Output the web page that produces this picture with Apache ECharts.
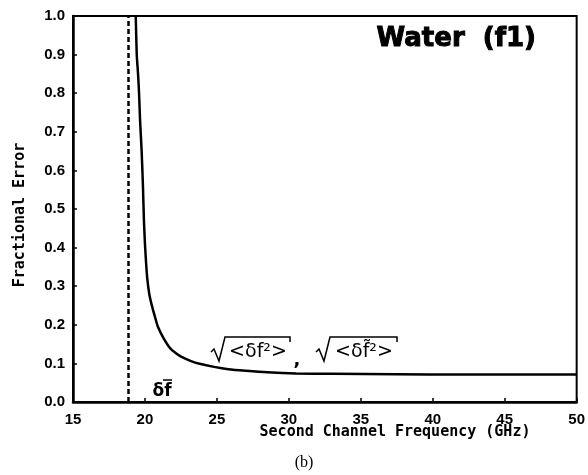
<!DOCTYPE html>
<html>
<head>
<meta charset="utf-8">
<script src="https://cdn.jsdelivr.net/npm/echarts@6/dist/echarts.min.js"></script>
<style>
    html, body { margin: 0; padding: 0; background: #fff; }
    #main { width: 588px; height: 475px; }
</style>
</head>
<body>
<div id="main"></div>
<script>

// curve (second channel frequency, fractional error)
var freqs = [19.36, 19.43, 19.52, 19.59, 19.66, 19.77, 19.86, 19.93, 20.0, 20.08, 20.16, 20.3, 20.5, 20.7, 20.9, 21.3, 21.76, 22.2, 22.55, 23.2, 23.8, 24.8, 25.8, 27.0, 28.5, 30.5, 33.0, 37.4, 42.0, 46.0, 50.0];
var errors = [1.0, 0.9, 0.85, 0.8, 0.73, 0.65, 0.56, 0.47, 0.41, 0.36, 0.32, 0.28, 0.247, 0.22, 0.195, 0.165, 0.139, 0.125, 0.117, 0.106, 0.099, 0.091, 0.085, 0.081, 0.077, 0.074, 0.073, 0.072, 0.071, 0.071, 0.071];

// dashed line position (delta f bar)
var dashX = 18.87;

var xTicks = [15, 20, 25, 30, 35, 40, 45, 50];
var yTicks = [0.0, 0.1, 0.2, 0.3, 0.4, 0.5, 0.6, 0.7, 0.8, 0.9, 1.0];

var pts = [];
for (var i = 0; i < freqs.length; i++) {
    pts.push([freqs[i], errors[i]]);
}

var myChart = echarts.init(document.getElementById('main'));

var lblFont = 'Liberation Sans';
var nameFont = 'DejaVu Sans Mono';

var option = {
    backgroundColor: '#fff',
    animation: false,
    grid: {
        left: 73, right: 4, top: 16, bottom: 73,
        show: true, borderColor: '#000', borderWidth: 2
    },
    xAxis: {
        type: 'value',
        min: xTicks[0], max: xTicks[xTicks.length - 1], interval: 5,
        axisLine: { lineStyle: { color: '#000', width: 2.5 } },
        axisTick: { inside: true, length: 4, lineStyle: { color: '#000', width: 1.5 } },
        axisLabel: { color: '#000', fontFamily: lblFont, fontWeight: 'bold', fontSize: 15, margin: 10 },
        splitLine: { show: false }
    },
    yAxis: {
        type: 'value',
        min: yTicks[0], max: yTicks[yTicks.length - 1], interval: 0.1,
        axisLine: { show: true, lineStyle: { color: '#000', width: 2.5 } },
        axisTick: { show: true, inside: true, length: 4, lineStyle: { color: '#000', width: 1.5 } },
        axisLabel: {
            color: '#000', fontFamily: lblFont, fontWeight: 'bold', fontSize: 15, margin: 8,
            padding: [6, 0, 0, 0],
            formatter: function (v) { return v.toFixed(1); }
        },
        splitLine: { show: false }
    },
    series: [{
        type: 'line',
        data: pts,
        smooth: 0.2,
        symbol: 'none',
        lineStyle: { color: '#000', width: 2.5 },
        markLine: {
            silent: true,
            symbol: 'none',
            label: { show: false },
            lineStyle: { color: '#000', width: 2.5, type: [5, 3] },
            data: [{ xAxis: dashX }]
        }
    }],
    graphic: [
        // title
        { type: 'text', x: 536, y: 39, style: { text: 'Water  (f1)', fill: '#000', stroke: '#000', lineWidth: 1, font: 'bold 26px DejaVu Sans', textAlign: 'right', textVerticalAlign: 'middle' } },
        // axis names
        { type: 'text', x: 395, y: 432, style: { text: 'Second Channel Frequency (GHz)', fill: '#000', font: 'bold 15px ' + nameFont, textAlign: 'center', textVerticalAlign: 'middle' } },
        { type: 'text', x: 20, y: 215, rotation: Math.PI / 2, style: { text: 'Fractional Error', fill: '#000', font: 'bold 15px ' + nameFont, textAlign: 'center', textVerticalAlign: 'middle' } },
        { type: 'text', x: 304, y: 463, style: { text: '(b)', fill: '#000', font: '16px Liberation Serif', textAlign: 'center', textVerticalAlign: 'middle' } },
        // delta f bar
        { type: 'text', x: 162, y: 392, style: { text: 'δf', fill: '#000', font: 'bold 17px DejaVu Sans', textAlign: 'center', textVerticalAlign: 'middle' } },
        { type: 'line', shape: { x1: 163, y1: 380, x2: 172, y2: 380 }, style: { stroke: '#000', lineWidth: 1.5 } },
        // sqrt <df^2>
        { type: 'polyline', shape: { points: [[211, 352], [214, 349], [219, 361], [225, 337], [290, 337], [290, 342]] }, style: { stroke: '#000', lineWidth: 1.5, fill: null } },
        { type: 'text', x: 258, y: 352, style: { text: '<δf²>', fill: '#000', font: '19px DejaVu Sans', textAlign: 'center', textVerticalAlign: 'middle' } },
        { type: 'text', x: 297, y: 360, style: { text: ',', fill: '#000', font: 'bold 18px DejaVu Sans', textAlign: 'center', textVerticalAlign: 'middle' } },
        // sqrt <df~^2>
        { type: 'polyline', shape: { points: [[316, 352], [319, 349], [324, 361], [330, 337], [397, 337], [397, 342]] }, style: { stroke: '#000', lineWidth: 1.5, fill: null } },
        { type: 'text', x: 364, y: 352, style: { text: '<δf\u0303²>', fill: '#000', font: '19px DejaVu Sans', textAlign: 'center', textVerticalAlign: 'middle' } }
    ]
};

myChart.setOption(option);

</script>
</body>
</html>
